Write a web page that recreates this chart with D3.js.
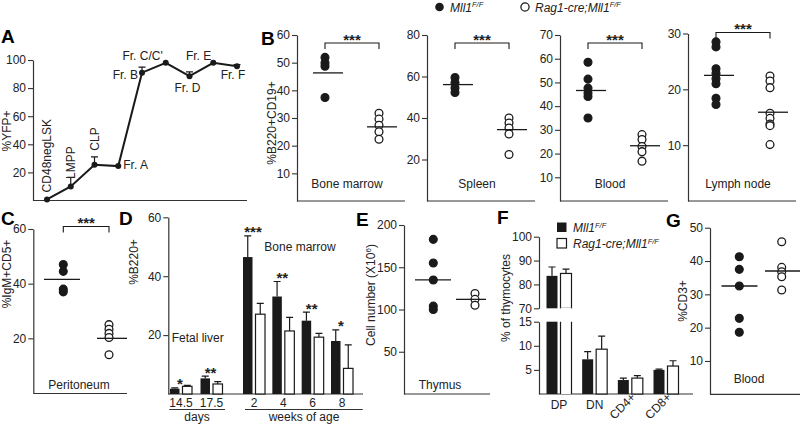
<!DOCTYPE html>
<html><head><meta charset="utf-8">
<script src="https://cdn.jsdelivr.net/npm/d3@7"></script>
<style>
body{margin:0;background:#fff;}
svg{font-family:"Liberation Sans",Arial,Helvetica,sans-serif;}
</style></head><body>
<svg id="c" width="800" height="425"></svg>
<script>
// ================= DATA =================
// Panel A
const aStages = ["CD48negLSK","LMPP","CLP","Fr. A","Fr. B","Fr. C/C'","Fr. D","Fr. E","Fr. F"];
const aYFP    = [0.8, 10, 25.5, 24.5, 91, 98, 88.5, 98, 95.5];
const aErr    = [0, 6.5, 5.5, 0, 4, 0, 3, 0, 1.2];
const aTicks  = [20, 40, 60, 80, 100];

// Panel B (dot plots)
const bTissues     = ["Bone marrow", "Spleen", "Blood", "Lymph node"];
const bControl     = [[51.9, 49.9, 48.7, 37.4],
                      [59.5, 57, 54.5, 52.3],
                      [58.5, 51.4, 47.6, 45.5, 44.1, 35],
                      [28.5, 27.6, 23.7, 22.9, 21.9, 21, 18.4, 17.3]];
const bMutant      = [[31.7, 29.6, 27.4, 25, 22.3],
                      [40, 37.6, 35.2, 32.3, 22.4],
                      [28, 25.9, 23, 20.8, 16.8],
                      [22.4, 21.5, 20.3, 15.7, 14.8, 13.8, 13.5, 10.1]];
const bControlLine = [46.3, 56.1, 46.6, 22.5];
const bMutantLine  = [26.8, 34.4, 23.3, 15.9];
const bMax         = [60, 80, 70, 30];
const bTicks       = [[10,20,30,40,50,60], [20,40,60,80], [10,20,30,40,50,60,70], [10,20,30]];
const bSig         = ["***", "***", "***", "***"];

// Panel C
const cControl = [47, 44.5, 38, 37];
const cMutant  = [25, 23.3, 21.8, 20.3, 14];
const cControlLine = 41.6, cMutantLine = 20;
const cTicks = [20, 40, 60];

// Panel D (bars)
const dFetalAges  = ["14.5", "17.5"];
const dFetalCtrl  = [1.8, 5.3];
const dFetalCtrlE = [0.3, 0.8];
const dFetalMut   = [2.6, 3.4];
const dFetalMutE  = [0.3, 0.8];
const dFetalSig   = ["*", "**"];
const dWeeks      = ["2", "4", "6", "8"];
const dWeekCtrl   = [46.5, 33.1, 24.9, 18];
const dWeekCtrlE  = [7.2, 5.1, 2.9, 3.8];
const dWeekMut    = [27.1, 21.4, 19.3, 8.7];
const dWeekMutE   = [3.7, 4.6, 1.3, 8];
const dWeekSig    = ["***", "**", "**", "*"];
const dTicks      = [20, 40, 60];

// Panel E
const eControl = [183, 155, 135, 104, 100];
const eMutant  = [119, 112, 105];
const eControlLine = 135, eMutantLine = 112;
const eTicks = [50, 100, 150, 200];

// Panel F (bars, broken axis)
const fCats  = ["DP", "DN", "CD4+", "CD8+"];
const fCtrl  = [83.6, 7.2, 2.9, 5.0];
const fCtrlE = [3.7, 1.6, 0.4, 0.15];
const fMut   = [84.6, 9.3, 3.3, 5.8];
const fMutE  = [1.8, 2.7, 0.5, 1.1];
const fTicksTop = [70, 80, 90, 100];
const fTicksBot = [5, 10, 15];

// Panel G
const gControl = [41.3, 37.5, 32.5, 22.8, 18.6];
const gMutant  = [45.8, 38.1, 36.8, 35.3, 31.3];
const gControlLine = 32.5, gMutantLine = 37;
const gTicks = [10, 20, 30, 40, 50];

// ================= DRAW =================
const INK = "#1a1a1a", TXT = "#222", AX = "#333";
const svg = d3.select("#c");
const R = 3.9;

function styleAxis(g){
  g.attr("font-size", 12).attr("font-family", null);
  g.select(".domain").attr("stroke", AX).attr("stroke-width", 1.2);
  g.selectAll(".tick line").attr("stroke", AX).attr("stroke-width", 1.1);
  g.selectAll(".tick text").attr("fill", TXT);
}
function yAxis(scale, ticks, x){
  const g = svg.append("g").attr("transform", `translate(${x},0)`)
    .call(d3.axisLeft(scale).tickValues(ticks).tickSize(5).tickSizeOuter(0).tickPadding(2));
  styleAxis(g);
  return g;
}
function hLine(x1, x2, y, w){
  svg.append("line").attr("x1", x1).attr("x2", x2).attr("y1", y).attr("y2", y)
    .attr("stroke", AX).attr("stroke-width", w || 1.2);
}
function text(x, y, s, opt){
  opt = opt || {};
  const t = svg.append("text").attr("x", x).attr("y", y).text(s)
    .attr("font-size", opt.size || 12).attr("fill", TXT)
    .attr("text-anchor", opt.anchor || "start");
  if (opt.bold) t.attr("font-weight", "bold");
  if (opt.italic) t.attr("font-style", "italic");
  if (opt.rot) t.attr("transform", `rotate(${opt.rot},${x},${y})`);
  return t;
}
function yLabel(x, y, s){ return text(x, y, s, {anchor: "middle", rot: -90}); }
function panelLetter(x, y, s){ text(x, y, s, {size: 19, bold: true}).attr("fill", "#000"); }
function mllText(x, y, prefix){
  const t = svg.append("text").attr("x", x).attr("y", y).attr("font-size", 12)
    .attr("font-style", "italic").attr("fill", TXT);
  t.append("tspan").text(prefix + "Mll1");
  t.append("tspan").attr("dy", -4.5).attr("font-size", 7.5).text("F/F");
  return t;
}
function dots(xc, vals, y, filled){
  svg.append("g").selectAll("circle").data(vals).join("circle")
    .attr("cx", xc).attr("cy", d => y(d)).attr("r", R)
    .attr("fill", filled ? INK : "#fff").attr("stroke", INK).attr("stroke-width", 1.3);
}
function medLine(xc, v, y, hw){
  svg.append("line").attr("x1", xc - hw).attr("x2", xc + hw)
    .attr("y1", y(v)).attr("y2", y(v)).attr("stroke", INK).attr("stroke-width", 1.3);
}
function bracket(x1, x2, yTop, sig){
  svg.append("path").attr("d", `M${x1},${yTop+6}V${yTop}H${x2}V${yTop+6}`)
    .attr("fill", "none").attr("stroke", INK).attr("stroke-width", 1.1);
  text((x1 + x2) / 2, yTop + 1.5, sig, {size: 15, bold: true, anchor: "middle"});
}
function errBar(xc, yBase, yTop){
  svg.append("path").attr("d", `M${xc},${yBase}V${yTop}M${xc-3.5},${yTop}H${xc+3.5}`)
    .attr("fill", "none").attr("stroke", INK).attr("stroke-width", 1.2);
}

// ---------- Panel A ----------
{
  const x = d3.scalePoint().domain(aStages).range([47, 237]);
  const y = d3.scaleLinear().domain([0, 100]).range([200.5, 60]);
  yAxis(y, aTicks, 33);
  hLine(33, 247, 200.5);
  aStages.forEach((s, i) => { if (aErr[i] > 0) errBar(x(s), y(aYFP[i]), y(aYFP[i] + aErr[i])); });
  svg.append("path").datum(aStages.map((s, i) => [x(s), y(aYFP[i])]))
    .attr("d", d3.line()).attr("fill", "none").attr("stroke", INK).attr("stroke-width", 2);
  svg.append("g").selectAll("circle").data(aStages).join("circle")
    .attr("cx", d => x(d)).attr("cy", (d, i) => y(aYFP[i])).attr("r", 3).attr("fill", INK);
  // label placement (layout)
  const lp = [
    {rot: true, dy: -7}, {rot: true, dy: -7.5}, {rot: true, dy: -14},
    {dx: 5, dy: 3, a: "start"}, {dx: -4, dy: 6.5, a: "end"}, {dx: -3, dy: -3, a: "end"},
    {dx: -2, dy: 16, a: "middle"}, {dx: -2, dy: -3, a: "end"}, {dx: -4, dy: 13, a: "middle"}
  ];
  aStages.forEach((s, i) => {
    const px = x(s), py = y(aYFP[i]), p = lp[i];
    if (p.rot) text(px + 4.3, py + p.dy, s, {rot: -90});
    else text(px + p.dx, py + p.dy, s, {anchor: p.a});
  });
  yLabel(11, 131, "%YFP+");
  panelLetter(1, 43, "A");
}

// ---------- Panel B ----------
{
  const axisXs = [297, 427, 560, 688];
  const top = [35, 35, 35, 33.5];
  const brY = [43, 43, 43, 32.5];
  bTissues.forEach((t, i) => {
    const ax = axisXs[i];
    const y = d3.scaleLinear().domain([0, bMax[i]]).range([201, top[i]]);
    yAxis(y, bTicks[i], ax);
    hLine(ax, ax + 108, 201);
    const xf = ax + 28, xo = ax + 82;
    dots(xf, bControl[i], y, true);
    dots(xo, bMutant[i], y, false);
    medLine(xf + 3, bControlLine[i], y, 15);
    medLine(xo + 3, bMutantLine[i], y, 15);
    bracket(xf, xo, brY[i], bSig[i]);
    text(ax + 50, 188, t, {anchor: "middle"});
  });
  yLabel(276, 123, "%B220+CD19+");
  panelLetter(261, 45, "B");
  // legend
  svg.append("circle").attr("cx", 439.5).attr("cy", 7).attr("r", 4.3).attr("fill", INK);
  mllText(450, 11.5, "");
  svg.append("circle").attr("cx", 525).attr("cy", 7).attr("r", 4.1).attr("fill", "#fff")
    .attr("stroke", INK).attr("stroke-width", 1.3);
  mllText(535, 11.5, "Rag1-cre;");
}

// ---------- Panel C ----------
{
  const y = d3.scaleLinear().domain([0, 60]).range([393, 229]);
  yAxis(y, cTicks, 33.3);
  hLine(33.3, 127, 393.5);
  dots(63.3, cControl, y, true);
  dots(109, cMutant, y, false);
  medLine(62, cControlLine, y, 18);
  medLine(112, cMutantLine, y, 15);
  bracket(63.3, 109, 226.5, "***");
  text(79, 389, "Peritoneum", {anchor: "middle"});
  yLabel(11, 274, "%IgM+CD5+");
  panelLetter(1, 225, "C");
}

// ---------- Panel D ----------
{
  const y = d3.scaleLinear().domain([0, 60]).range([394, 217.3]);
  yAxis(y, dTicks, 168.3);
  hLine(168.3, 363, 394);
  const xF = d3.scalePoint().domain(dFetalAges).range([181, 211.5]);
  const xW = d3.scalePoint().domain(dWeeks).range([254, 342]);
  const bw = 9.5;
  function group(cats, xs, ctrl, ctrlE, mut, mutE, sig){
    cats.forEach((c, i) => {
      const cx = xs(c);
      const xb = cx - 11, xw = cx + 1.5;
      errBar(xb + bw / 2, y(ctrl[i]), y(ctrl[i] + ctrlE[i]));
      errBar(xw + bw / 2, y(mut[i]), y(mut[i] + mutE[i]));
      svg.append("rect").attr("x", xb).attr("y", y(ctrl[i])).attr("width", bw)
        .attr("height", y(0) - y(ctrl[i])).attr("fill", INK);
      svg.append("rect").attr("x", xw).attr("y", y(mut[i])).attr("width", bw)
        .attr("height", y(0) - y(mut[i])).attr("fill", "#fff").attr("stroke", INK).attr("stroke-width", 1.2);
      text(cx - 1, y(ctrl[i] + ctrlE[i]) + 1.5, sig[i], {size: 15, bold: true, anchor: "middle"});
      text(cx, 406.5, c, {anchor: "middle"});
    });
  }
  group(dFetalAges, xF, dFetalCtrl, dFetalCtrlE, dFetalMut, dFetalMutE, dFetalSig);
  group(dWeeks, xW, dWeekCtrl, dWeekCtrlE, dWeekMut, dWeekMutE, dWeekSig);
  hLine(169.3, 225, 409.5, 1);
  hLine(245, 362.7, 409.5, 1);
  text(197, 420.5, "days", {anchor: "middle"});
  text(304, 420.5, "weeks of age", {anchor: "middle"});
  text(171.7, 341.7, "Fetal liver");
  text(264.3, 250.5, "Bone marrow");
  yLabel(138, 262, "%B220+");
  panelLetter(119, 225, "D");
}

// ---------- Panel E ----------
{
  const y = d3.scaleLinear().domain([0, 200]).range([394, 225]);
  yAxis(y, eTicks, 404);
  hLine(404, 490, 394);
  dots(433.3, eControl, y, true);
  dots(475, eMutant, y, false);
  medLine(433, eControlLine, y, 18);
  medLine(471, eMutantLine, y, 15);
  text(440, 389, "Thymus", {anchor: "middle"});
  const t = svg.append("text").attr("x", 375).attr("y", 295).attr("font-size", 12).attr("fill", TXT)
    .attr("text-anchor", "middle").attr("transform", "rotate(-90,375,295)");
  t.append("tspan").text("Cell number (X10");
  t.append("tspan").attr("dy", -4.5).attr("font-size", 8).text("6");
  t.append("tspan").attr("dy", 4.5).text(")");
  panelLetter(356, 225.5, "E");
}

// ---------- Panel F ----------
{
  const yT = d3.scaleLinear().domain([70, 100]).range([308.3, 236.7]);
  const yB = d3.scaleLinear().domain([0, 15]).range([394, 321.7]);
  yAxis(yT, fTicksTop, 539);
  yAxis(yB, fTicksBot, 539);
  hLine(539, 693, 394);
  const x = d3.scalePoint().domain(fCats).range([559, 666]);
  const bw = 11;
  function bar(xl, v, e, filled){
    const fill = filled ? INK : "#fff";
    if (v > 15) {
      // broken bar: bottom piece + top piece
      svg.append("rect").attr("x", xl).attr("y", yT(v)).attr("width", bw)
        .attr("height", yT(70) - yT(v)).attr("fill", fill).attr("stroke", filled ? "none" : INK).attr("stroke-width", 1.2);
      svg.append("rect").attr("x", xl).attr("y", yB(15)).attr("width", bw)
        .attr("height", yB(0) - yB(15)).attr("fill", fill);
      if (!filled) {
        svg.append("rect").attr("x", xl).attr("y", yT(70) - 0.6).attr("width", bw).attr("height", 1.6).attr("fill", "#fff");
        svg.append("path").attr("d", `M${xl},${yB(15)}V${yB(0)}M${xl+bw},${yB(15)}V${yB(0)}`)
          .attr("stroke", INK).attr("stroke-width", 1.2);
      }
      errBar(xl + bw / 2, yT(v), yT(v + e));
    } else {
      errBar(xl + bw / 2, yB(v), yB(v + e));
      svg.append("rect").attr("x", xl).attr("y", yB(v)).attr("width", bw)
        .attr("height", yB(0) - yB(v)).attr("fill", fill)
        .attr("stroke", filled ? "none" : INK).attr("stroke-width", 1.2);
    }
  }
  fCats.forEach((c, i) => {
    const cx = x(c);
    bar(cx - 12.5, fCtrl[i], fCtrlE[i], true);
    bar(cx + 1.5, fMut[i], fMutE[i], false);
    if (i < 2) text(cx, 409, c, {anchor: "middle"});
    else text(cx + 6, 398, c, {anchor: "end", rot: -45});
  });
  // legend
  svg.append("rect").attr("x", 557).attr("y", 222.5).attr("width", 9.5).attr("height", 9.5).attr("fill", INK);
  mllText(573, 232, "");
  svg.append("rect").attr("x", 557).attr("y", 238.5).attr("width", 9.5).attr("height", 9.5)
    .attr("fill", "#fff").attr("stroke", INK).attr("stroke-width", 1.2);
  mllText(573, 248, "Rag1-cre;");
  yLabel(510, 298, "% of thymocytes");
  panelLetter(497, 224, "F");
}

// ---------- Panel G ----------
{
  const y = d3.scaleLinear().domain([0, 50]).range([394.3, 227.7]);
  yAxis(y, gTicks, 710);
  hLine(710, 800, 394.3);
  dots(739.3, gControl, y, true);
  dots(781.7, gMutant, y, false);
  medLine(739.5, gControlLine, y, 18);
  medLine(782.5, gMutantLine, y, 17.5);
  text(749, 383, "Blood", {anchor: "middle"});
  yLabel(687, 301, "%CD3+");
  panelLetter(666, 226.5, "G");
}
</script>
</body></html>
